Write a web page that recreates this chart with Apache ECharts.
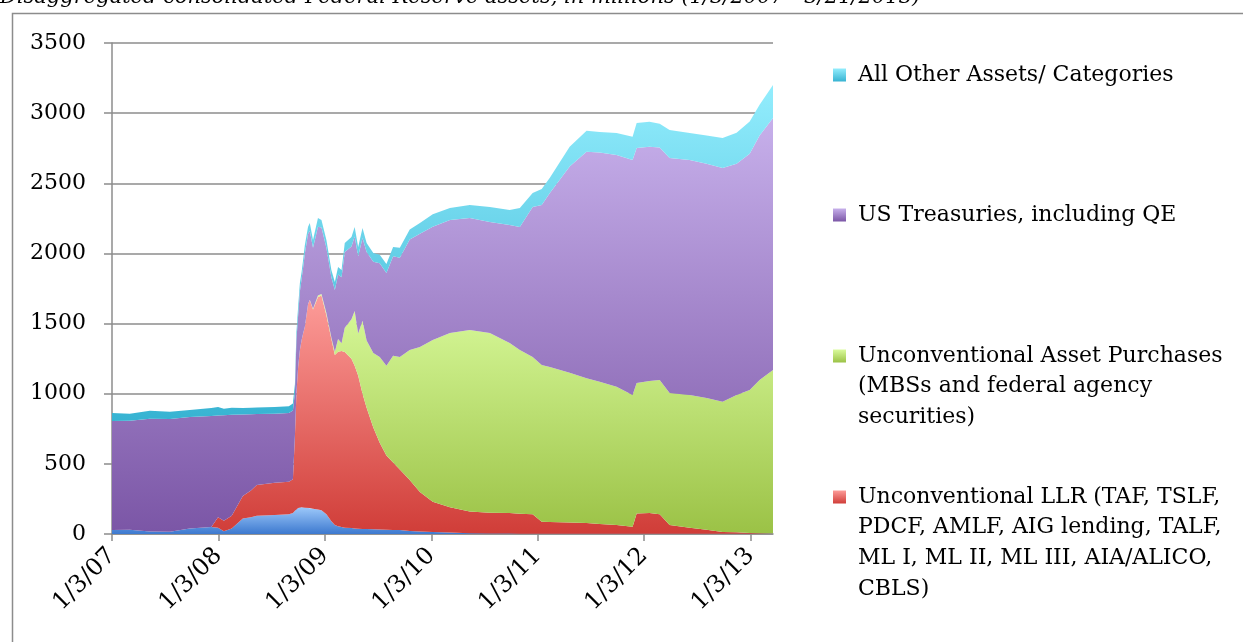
<!DOCTYPE html>
<html>
<head>
<meta charset="utf-8">
<title>Federal Reserve assets</title>
<script src="https://cdn.jsdelivr.net/npm/echarts@6/dist/echarts.min.js"></script>
<style>
html, body { margin: 0; padding: 0; background: #fff; }
#chart { width: 1243px; height: 642px; }
</style>
</head>
<body>
<div id="chart"></div>
<script>
// weekly H.4.1 values, sampled
const dates = [
  '2007-01-03', '2007-03-05', '2007-05-13', '2007-07-21', '2007-09-27', '2007-12-10',
  '2008-01-02', '2008-01-22', '2008-02-18', '2008-03-27', '2008-04-24', '2008-05-14', '2008-07-15',
  '2008-09-01', '2008-09-15', '2008-09-22', '2008-09-27', '2008-10-03', '2008-10-09', '2008-10-15',
  '2008-10-20', '2008-10-26', '2008-11-06', '2008-11-12', '2008-11-23', '2008-12-10', '2008-12-22',
  '2009-01-08', '2009-01-25', '2009-02-06', '2009-02-17', '2009-03-01', '2009-03-12', '2009-04-04',
  '2009-04-15', '2009-04-27', '2009-05-12', '2009-05-26', '2009-06-18', '2009-07-10', '2009-08-02',
  '2009-08-25', '2009-09-17', '2009-10-21', '2009-11-25',
  '2010-01-08', '2010-03-08', '2010-05-15', '2010-07-23', '2010-09-29', '2010-11-03', '2010-12-17',
  '2011-01-17', '2011-02-14', '2011-04-23', '2011-06-20', '2011-08-04', '2011-10-01', '2011-11-25', '2011-12-09',
  '2012-01-22', '2012-02-26', '2012-03-31', '2012-06-08', '2012-08-05', '2012-09-29', '2012-11-16', '2012-12-31',
  '2013-02-03', '2013-03-21'
]
const traditional = [
  28, 30, 18, 16, 40, 50,
  45, 20, 40, 110, 120, 130, 135, 140, 150, 165, 180, 185, 190, 190, 190, 188, 185, 185, 180, 175, 170,
  140, 90, 64, 55, 50, 45, 42, 40, 38, 36, 35, 33, 32, 30, 28, 28, 22, 18,
  15, 10, 6, 4, 3, 2, 2,
  1, 1, 1, 1, 1, 1, 1, 1,
  1, 1, 1, 1, 1, 1, 1, 1,
  1, 1
]
const llr = [
  0, 0, 0, 0, 0, 0,
  75, 75, 90, 160, 190, 220, 230, 232, 240, 535, 820, 1008, 1121, 1193, 1240, 1290, 1455, 1483, 1420, 1515, 1530,
  1420, 1300, 1212, 1245, 1255, 1252, 1208, 1160, 1092, 964, 865, 727, 618, 530, 482, 432, 363, 282,
  215, 180, 154, 148, 147, 143, 138,
  87, 85, 81, 77, 71, 63, 51, 146,
  149, 139, 63, 44, 29, 14, 11, 7,
  5, 4
]
const assetPurchases = [
  0, 0, 0, 0, 0, 0,
  0, 0, 0, 0, 0, 0, 0, 0, 0, 0, 0, 0, 0, 0, 0, 0, 0, 2, 5, 10, 10,
  15, 10, 24, 90, 55, 173, 280, 390, 300, 520, 480, 530, 612, 640, 760, 802, 926, 1033,
  1153, 1242, 1294, 1280, 1211, 1166, 1122,
  1117, 1104, 1068, 1032, 1013, 986, 939, 929,
  940, 958, 941, 946, 939, 928, 978, 1018,
  1092, 1164
]
const treasuries = [
  777, 778, 804, 804, 794, 791,
  725, 751, 720, 582, 543, 505, 493, 490, 490, 310, 380, 367, 419, 437, 470, 522, 500, 490, 435, 490, 475,
  465, 430, 440, 460, 470, 540, 520, 530, 550, 590, 630, 650, 668, 660, 710, 708, 789, 807,
  807, 806, 798, 792, 842, 877, 1069,
  1140, 1240, 1470, 1615, 1635, 1652, 1675, 1676,
  1670, 1657, 1675, 1675, 1671, 1666, 1650, 1684,
  1742, 1796
]
const otherAssets = [
  57, 50, 56, 52, 50, 57,
  60, 46, 50, 46, 47, 47, 47, 48, 50, 60, 52, 60, 60, 50, 53, 60, 50, 57, 56, 62, 53,
  56, 52, 56, 53, 52, 64, 67, 68, 66, 71, 64, 63, 60, 65, 66, 70, 70, 77,
  90, 86, 93, 107, 107, 136, 100,
  115, 110, 140, 150, 146, 156, 166, 178,
  179, 170, 200, 192, 200, 214, 220, 230,
  220, 235
]
const tickDates = ['2007-01-03', '2008-01-03', '2009-01-03', '2010-01-03', '2011-01-03', '2012-01-03', '2013-01-03']
const tickLabels = ['1/3/07', '1/3/08', '1/3/09', '1/3/10', '1/3/11', '1/3/12', '1/3/13']
const startDate = '2007-01-03'
const endDate = '2013-03-21'

const legendText = {
  'All Other Assets/ Categories': 'All Other Assets/ Categories',
  'US Treasuries, including QE': 'US Treasuries, including QE',
  'Unconventional Asset Purchases (MBSs and federal agency securities)':
    'Unconventional Asset Purchases\n(MBSs and federal agency\nsecurities)',
  'Unconventional LLR (TAF, TSLF, PDCF, AMLF, AIG lending, TALF, ML I, ML II, ML III, AIA/ALICO, CBLS)':
    'Unconventional LLR (TAF, TSLF,\nPDCF, AMLF, AIG lending, TALF,\nML I, ML II, ML III, AIA/ALICO,\nCBLS)'
}

// days since the first observation
const toDay = (s) => {
  const p = s.split('-').map(Number)
  const q = startDate.split('-').map(Number)
  return Math.round((Date.UTC(p[0], p[1] - 1, p[2]) - Date.UTC(q[0], q[1] - 1, q[2])) / 86400000)
}
const tickDays = tickDates.map(toDay)

const grad = (top, bottom) =>
  new echarts.graphic.LinearGradient(0, 0, 0, 1, [
    { offset: 0, color: top },
    { offset: 1, color: bottom },
  ])

const seriesDefs = [
  { name: 'Traditional Lending and Securities', values: traditional, c: ['#9cc8fa', '#3d79cf'] },
  { name: 'Unconventional LLR (TAF, TSLF, PDCF, AMLF, AIG lending, TALF, ML I, ML II, ML III, AIA/ALICO, CBLS)', values: llr, c: ['#fd9c99', '#d03d38'] },
  { name: 'Unconventional Asset Purchases (MBSs and federal agency securities)', values: assetPurchases, c: ['#dafb9d', '#9bc246'] },
  { name: 'US Treasuries, including QE', values: treasuries, c: ['#c7b0eb', '#7b56a6'] },
  { name: 'All Other Assets/ Categories', values: otherAssets, c: ['#93edfd', '#37b3d2'] },
]

const font = 'DejaVu Serif'
const lh = 30.7
// one legend per entry so the icon sits on the first text line
const legendItems = [
  { name: seriesDefs[4].name, center: 75 },
  { name: seriesDefs[3].name, center: 215 },
  { name: seriesDefs[2].name, center: 356 },
  { name: seriesDefs[1].name, center: 497 },
]
const legends = legendItems.map((it) => {
  const lines = legendText[it.name].split('\n').length
  const h = (2 * lines - 1) * lh
  const def = seriesDefs.find((d) => d.name === it.name)
  return {
    orient: 'vertical',
    left: 833,
    top: it.center - h / 2,
    padding: 0,
    icon: 'rect',
    itemWidth: 13,
    itemHeight: 13,
    selectedMode: false,
    data: [{ name: it.name, itemStyle: { color: grad(def.c[0], def.c[1]) } }],
    formatter: (n) => {
      const t = legendText[n].split('\n')
      return new Array(t.length - 1).fill('').concat(t).join('\n')
    },
    textStyle: {
      fontFamily: font,
      fontSize: 22,
      color: '#000',
      lineHeight: lh,
      padding: [0, 0, 0, 7],
    },
  }
})

const options = {
  animation: false,
  backgroundColor: '#fff',
  title: {
    text: 'Disaggregated consolidated Federal Reserve assets, in millions (1/3/2007 - 3/21/2013)',
    left: 0,
    top: -13,
    padding: 0,
    textStyle: { fontFamily: font, fontSize: 21, fontStyle: 'italic', fontWeight: 'normal', color: '#000' },
  },
  graphic: [
    {
      type: 'rect',
      z: -10,
      silent: true,
      shape: { x: 12.5, y: 13.5, width: 1400, height: 800 },
      style: { fill: 'none', stroke: '#8c8c8c', lineWidth: 1.5 },
    },
  ],
  legend: legends,
  grid: { left: 112, right: 470, top: 43, bottom: 108 },
  xAxis: {
    type: 'value',
    min: 0,
    max: toDay(endDate),
    axisLine: { lineStyle: { color: '#8c8c8c', width: 1.5 } },
    axisTick: { show: true, length: 7, customValues: tickDays, lineStyle: { color: '#8c8c8c', width: 1.5 } },
    splitLine: { show: false },
    axisLabel: {
      customValues: tickDays,
      rotate: 45,
      margin: 18,
      fontFamily: font,
      fontSize: 24,
      color: '#000',
      formatter: (v) => {
        let best = 0
        tickDays.forEach((t, i) => {
          if (Math.abs(t - v) < Math.abs(tickDays[best] - v)) best = i
        })
        return tickLabels[best]
      },
    },
  },
  yAxis: {
    type: 'value',
    min: 0,
    max: 3500,
    interval: 500,
    axisLine: { show: true, lineStyle: { color: '#8c8c8c', width: 1.5 } },
    axisTick: { show: true, length: 8, lineStyle: { color: '#8c8c8c', width: 1.5 } },
    splitLine: { lineStyle: { color: '#8c8c8c', width: 1.5 } },
    axisLabel: { margin: 26, fontFamily: font, fontSize: 22, color: '#000', formatter: (v) => String(v) },
  },
  // value first so that the stack runs along the y dimension
  series: seriesDefs.map((d) => ({
    name: d.name,
    type: 'line',
    stack: 'total',
    symbol: 'none',
    encode: { x: 1, y: 0 },
    lineStyle: { width: 0 },
    itemStyle: { color: grad(d.c[0], d.c[1]) },
    areaStyle: { color: grad(d.c[0], d.c[1]), opacity: 1 },
    data: dates.map((s, i) => [d.values[i], toDay(s)]),
  })),
}

const dom = document.getElementById('chart')
const chart = echarts.init(dom)
chart.setOption(options)
</script>
</body>
</html>
